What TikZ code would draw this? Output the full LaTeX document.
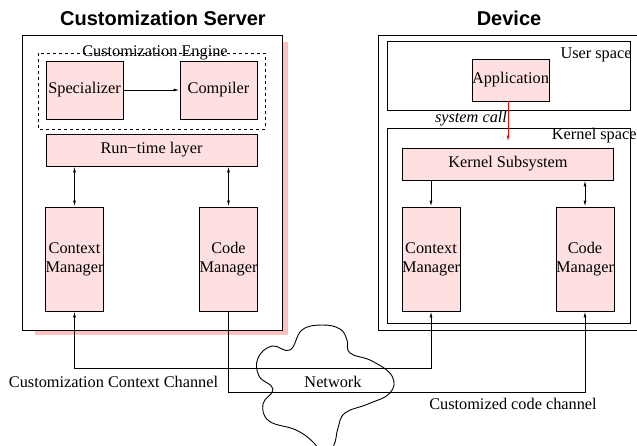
\documentclass[tikz,border=0pt]{standalone}
\usepackage{fontspec}
\setmainfont{Liberation Serif}
\newfontfamily\headfont{Liberation Sans}
\usetikzlibrary{arrows.meta}
\definecolor{boxpink}{RGB}{255,224,224}
\definecolor{shadowpink}{RGB}{255,192,192}
\tikzset{
    module/.style = {draw, fill = boxpink, inner sep = 0pt, align = center,
        font = \fontsize{16.3}{19}\selectfont},
    heading/.style = {font = \headfont\bfseries\fontsize{20}{22}\selectfont},
    tag/.style = {inner sep = 0pt, font = \fontsize{16.3}{19}\selectfont},
    >= {Latex[length = 6pt, width = 3pt]}
}
\begin{document}
\begin{tikzpicture}[x = 1pt, y = -1pt, line width = 0.9pt]
        \useasboundingbox (0, 0) rectangle (637, 445);
        \clip (0, 0) rectangle (637, 445);
        % server side
        \node [heading] (servertitle) at (163, 18) {Customization Server};
        \fill [shadowpink] (35, 42) rectangle (288, 335);
        \draw [fill = white] (22, 35) rectangle (282, 330);
        \draw [dashed] (38, 53) rectangle (265, 129);
        \node [tag] (engine) at (155, 53) {Customization Engine};
        \node [module, minimum width = 77pt, minimum height = 58pt] (spec) at (84.5, 90) {Specializer};
        \node [module, minimum width = 77pt, minimum height = 58pt] (comp) at (218.5, 90) {Compiler};
        \node [module, minimum width = 211pt, minimum height = 32pt] (runtime) at (151.5, 150) {Run−time layer};
        \node [module, minimum width = 57pt, minimum height = 104pt] (scontext) at (74.5, 259) {Context\\Manager};
        \node [module, minimum width = 57pt, minimum height = 104pt] (scode) at (228.5, 259) {Code\\Manager};
        \draw [->] (spec) -- (comp);
        \draw [<->] (scontext.north) -- (scontext.north |- runtime.south);
        \draw [<->] (scode.north) -- (scode.north |- runtime.south);
        % device side
        \node [heading] (devicetitle) at (509, 18) {Device};
        \draw (640, 35) -- (378, 35) -- (378, 330) -- (640, 330);
        \draw (387, 41) rectangle (630, 110);
        \node [tag, anchor = east] (userspace) at (632, 55) {User space};
        \draw (387, 128) rectangle (630, 323);
        \node [tag, anchor = east] (kernelspace) at (637, 136) {Kernel space};
        \node [module, minimum width = 77pt, minimum height = 42pt] (app) at (510.5, 80) {Application};
        \node [module, minimum width = 211pt, minimum height = 32pt] (kernel) at (508, 164) {Kernel Subsystem};
        \node [module, minimum width = 56pt, minimum height = 104pt] (dcontext) at (431, 259) {Context\\Manager};
        \node [module, minimum width = 56pt, minimum height = 104pt] (dcode) at (585, 259) {Code\\Manager};
        \draw [->, red] (app.south -| kernel.north) -- ([yshift = 6pt] kernel.north);
        \node [tag, font = \itshape\fontsize{16.3}{19}\selectfont] (syscall) at (471, 119) {system call};
        \draw [->] (dcontext.north |- kernel.south) -- (dcontext.north);
        \draw [<->] (dcode.north |- kernel.south) -- (dcode.north);
        % network
        \draw plot [smooth cycle, tension = 0.7] coordinates {(302, 330) (322, 325) (340, 329) (347, 340)
            (350, 353) (372, 361) (392, 376) (390, 393) (368, 404) (345, 413) (338, 428) (334, 445)
            (324, 458) (314, 443) (296, 430) (269, 421) (263, 404) (273, 389) (259, 376) (258, 358)
            (272, 346) (290, 350)};
        \node [tag] (network) at (333, 382) {Network};
        \draw [<->] (scontext.south) -- ++(0, 57) -| (dcontext.south);
        \draw [->] (scode.south) -- ++(0, 81) -| (dcode.south);
        \node [tag] (contextchannel) at (113.5, 382) {Customization Context Channel};
        \node [tag] (codechannel) at (513, 404) {Customized code channel};
    \end{tikzpicture}
\end{document}
